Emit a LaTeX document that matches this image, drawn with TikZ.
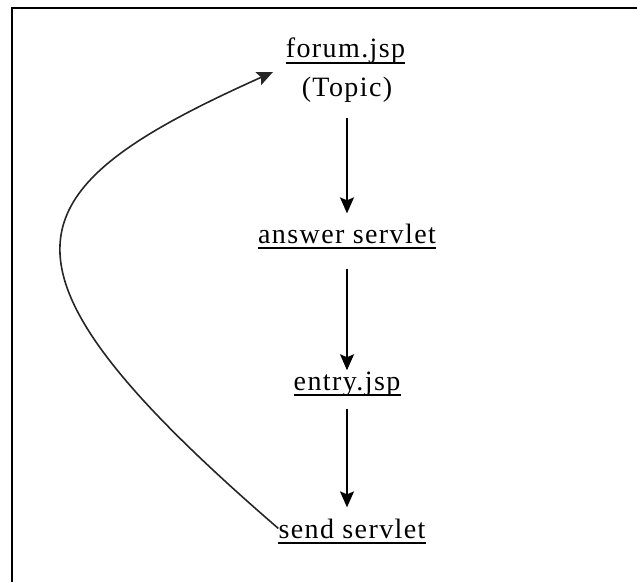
\documentclass[tikz,border=0pt]{standalone}
\usepackage{fontspec}
\setmainfont{Liberation Serif}[LetterSpace=5]
\usetikzlibrary{arrows.meta}
\begin{document}
\begin{tikzpicture}[x=1bp,y=-1bp,
  lbl/.style={inner sep=0pt, anchor=base, font=\fontsize{28bp}{32bp}\selectfont},
  ul/.style={line width=1.8bp},
  arr/.style={line width=1.5bp,-{Stealth[length=16bp,width=14bp,inset=3bp]}},
  curvearr/.style={line width=1.6bp,black!85,-{Stealth[length=16bp,width=14bp,inset=3bp]}}]
\useasboundingbox (0,0) rectangle (637,582);
\draw[line width=2.6bp] (637,8) -- (12,8) -- (12,582);
\node[lbl] (forum) at (345.5,58) {forum.jsp};
\node[lbl] (topic) at (347,97) {(Topic)};
\node[lbl] (answer) at (347,243) {answer servlet};
\node[lbl] (entry) at (347,390) {entry.jsp};
\node[lbl] (send) at (352,538) {send servlet};
\coordinate (tip) at (273,72);
\foreach \n in {forum,answer,entry,send}{
  \draw[ul] ([yshift=-5bp]\n.base west) -- ([yshift=-5bp]\n.base east);
}
\draw[arr, shorten <=15bp, shorten >=10bp] (topic.south) -- (topic.south |- answer.north);
\draw[arr, shorten <=26bp, shorten >=1bp] (answer.south) -- (answer.south |- entry.north);
\draw[arr, shorten <=13bp, shorten >=11bp] (entry.south) -- (entry.south |- send.north);
\draw[curvearr] (send.west) .. controls (-30,262) and (10,190) .. (tip);
\end{tikzpicture}
\end{document}
